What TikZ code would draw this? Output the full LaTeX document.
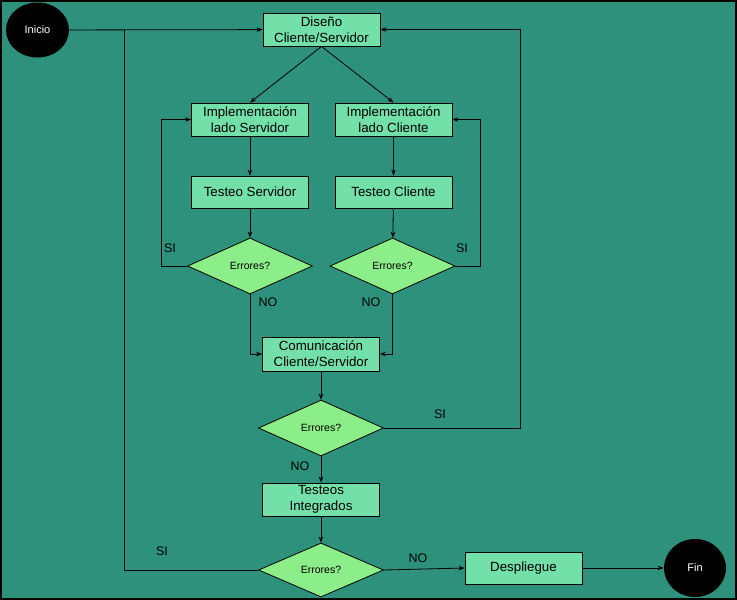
\documentclass[tikz,border=0pt]{standalone}
\usepackage{fontspec}
\setmainfont{Liberation Sans}
\usetikzlibrary{shapes.geometric,arrows.meta}
\definecolor{fondo}{RGB}{46,145,124}
\definecolor{cajaverde}{RGB}{115,224,170}
\definecolor{rombo}{RGB}{140,238,136}
\begin{document}
\begin{tikzpicture}[x=1pt,y=-1pt,>={Stealth[length=6pt,width=4.5pt]},line width=0.8pt,
	caja/.style={draw,fill=cajaverde,minimum width=117pt,minimum height=33pt,align=center,inner sep=1pt,font=\fontsize{13.3}{16}\selectfont},
	decision/.style={diamond,draw,fill=rombo,minimum width=125pt,minimum height=56pt,inner sep=0pt,font=\fontsize{10.5}{12}\selectfont},
	terminal/.style={ellipse,fill=black,text=white,minimum width=63pt,minimum height=55pt,font=\fontsize{11}{13}\selectfont},
	etiqueta/.style={font=\fontsize{12.5}{15}\selectfont}]
			% Fondo
			\fill[fondo] (0,0) rectangle (737,600);
			\draw[line width=2pt] (1,1) rectangle (736,599);

			% Nodos
			\node[terminal] (inicio) at (37.5,30) {Inicio};
			\node[caja] (disenio) at (321.5,29.5) {Diseño\\Cliente/Servidor};
			\node[caja] (implS) at (250,119.5) {Implementación\\lado Servidor};
			\node[caja] (implC) at (393.5,119.5) {Implementación\\lado Cliente};
			\node[caja,minimum height=32pt] (testS) at (250,192) {Testeo Servidor};
			\node[caja,minimum height=32pt] (testC) at (393.5,192) {Testeo Cliente};
			\node[decision] (errS) at (250,266) {Errores?};
			\node[decision] (errC) at (392.5,266) {Errores?};
			\node[caja,minimum height=34pt] (com) at (321,354) {Comunicación\\Cliente/Servidor};
			\node[decision] (errCom) at (321,428) {Errores?};
			\node[caja] (integ) at (321,499.5) {Testeos\\Integrados};
			\node[decision,minimum height=54pt] (errInteg) at (321,570) {Errores?};
			\node[caja,minimum height=32pt] (despliegue) at (523.5,568) {Despliegue};
			\node[terminal,minimum width=62pt,minimum height=58pt] (fin) at (695,568) {Fin};
			\coordinate (giro) at (124,30);

			% Flujo principal
			\draw[->] (inicio) -- (disenio);
			\draw[->] (disenio.south) -- (implS.north);
			\draw[->] (disenio.south) -- (implC.north);
			\draw[->] (implS) -- (testS);
			\draw[->] (implC) -- (testC);
			\draw[->] (testS) -- (errS);
			\draw[->] (testC) -- (errC);
			\draw[->] (com) -- (errCom);
			\draw[->] (errCom) -- (integ);
			\draw[->] (integ) -- (errInteg);
			\draw[->] (errInteg.east) -- (despliegue.west);
			\draw[->] (despliegue) -- (fin);

			% Retornos
			\draw[->] (errS.west) -| ([xshift=-30pt]implS.west) -- (implS.west);
			\draw[->] (errC.east) -| ([xshift=28pt]implC.east) -- (implC.east);
			\draw[->] (errS.south) |- (com.west);
			\draw[->] (errC.south) |- (com.east);
			\draw[->] (errCom.east) -| ([xshift=140pt]disenio.east) -- (disenio.east);
			\draw (errInteg.west) -| (giro);

			% Etiquetas
			\node[etiqueta] at (170,248) {SI};
			\node[etiqueta] at (462,248) {SI};
			\node[etiqueta] at (268,302) {NO};
			\node[etiqueta] at (371,302) {NO};
			\node[etiqueta] at (440,414) {SI};
			\node[etiqueta] at (300,466) {NO};
			\node[etiqueta] at (162,551) {SI};
			\node[etiqueta] at (418,558) {NO};
\end{tikzpicture}
\end{document}
